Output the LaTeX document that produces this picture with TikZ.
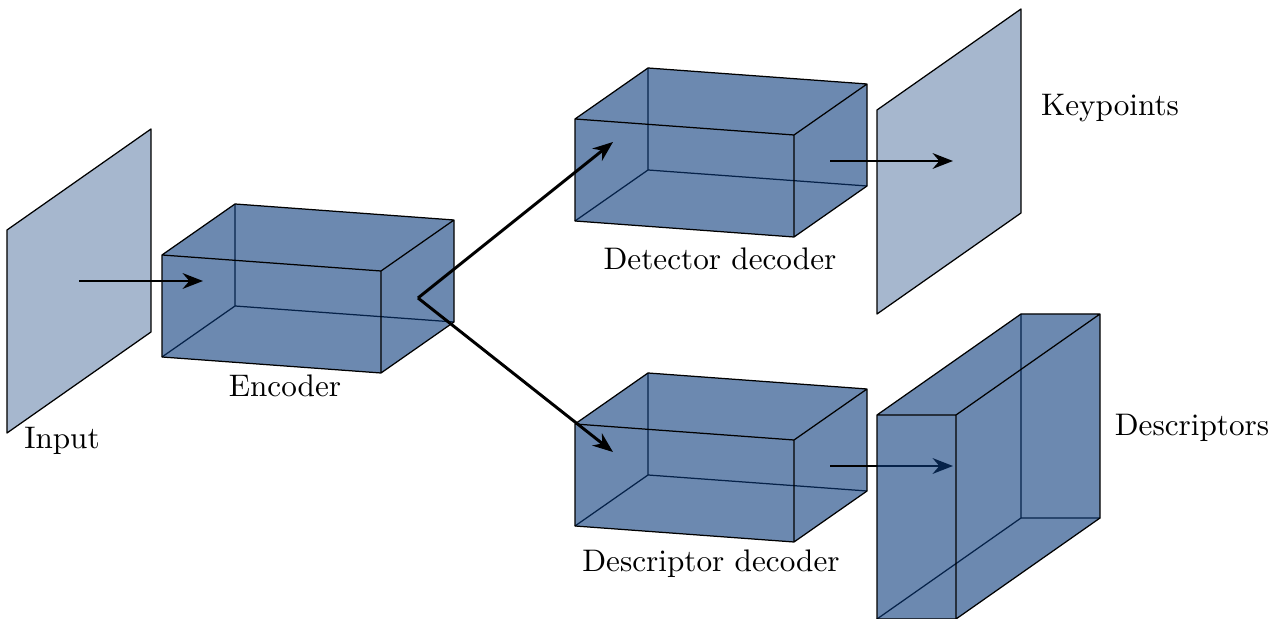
\documentclass[tikz,border=0pt]{standalone}
\usetikzlibrary{calc,arrows.meta}
\definecolor{blockblue}{HTML}{0A3A7B}
\definecolor{planeblue}{HTML}{A6B7CE}

% block: name, front bottom-left corner, width, height, depth
\newcommand{\drawblock}[5]{%
  \coordinate (#1-a) at (#2);
  \coordinate (#1-b) at ($(#1-a)+(#3)$);
  \coordinate (#1-c) at ($(#1-b)+(#4)$);
  \coordinate (#1-d) at ($(#1-a)+(#4)$);
  \coordinate (#1-e) at ($(#1-a)+(#5)$);
  \coordinate (#1-f) at ($(#1-b)+(#5)$);
  \coordinate (#1-g) at ($(#1-c)+(#5)$);
  \coordinate (#1-h) at ($(#1-d)+(#5)$);
  \draw[edge] (#1-e) -- (#1-a) (#1-e) -- (#1-f) (#1-e) -- (#1-h);
  \fill[block] (#1-a) -- (#1-b) -- (#1-f) -- (#1-g) -- (#1-h) -- (#1-d) -- cycle;
  \draw[edge] (#1-a) -- (#1-b) -- (#1-f) -- (#1-g) -- (#1-h) -- (#1-d) -- cycle
    (#1-d) -- (#1-c) -- (#1-b) (#1-c) -- (#1-g);
}
% plane: name, bottom-left corner, height, depth
\newcommand{\drawplane}[4]{%
  \coordinate (#1-a) at (#2);
  \coordinate (#1-b) at ($(#1-a)+(#3)$);
  \coordinate (#1-c) at ($(#1-b)+(#4)$);
  \coordinate (#1-d) at ($(#1-a)+(#4)$);
  \filldraw[plane] (#1-a) -- (#1-b) -- (#1-c) -- (#1-d) -- cycle;
}

\begin{document}
\begin{tikzpicture}[x=0.1127cm,y=0.1127cm,>={Stealth[length=6.5pt,width=5pt]}]
  \tikzstyle{edge}=[draw=black, line width=0.4pt, line join=round]
  \tikzstyle{block}=[fill=blockblue, fill opacity=0.6]
  \tikzstyle{plane}=[fill=planeblue, draw=black, line width=0.4pt, line join=round]
  \tikzstyle{arrow}=[->, line width=0.95pt, draw=black]
  \tikzstyle{label}=[font=\normalsize, inner sep=1pt]

  \path[use as bounding box] (0,0) rectangle (128.1,61.9);

  % input and encoder
  \drawplane{input}{0.7,18.6}{0,20.3}{14.4,10.1}
  \drawblock{enc}{16.2,26.2}{21.9,-1.6}{0,10.2}{7.3,5.1}

  \coordinate (in-start) at (7.9,33.8);
  \coordinate (in-end) at (20.3,33.8);
  \coordinate (split) at (41.8,32.1);
  \coordinate (det-in) at (61.3,47.7);
  \coordinate (desc-in) at (61.3,16.7);
  \coordinate (det-out) at (83.0,45.8);
  \coordinate (kp-in) at (95.3,45.8);
  \coordinate (desc-out) at (83.0,15.3);
  \coordinate (dsc-in) at (95.3,15.3);

  % decoders
  \drawblock{det}{57.5,39.8}{21.9,-1.6}{0,10.2}{7.3,5.1}
  \drawblock{desc}{57.5,9.3}{21.9,-1.6}{0,10.2}{7.3,5.1}

  % keypoints
  \drawplane{kp}{87.7,30.5}{0,20.4}{14.4,10.1}

  \draw[arrow] (in-start) -- (in-end);
  \draw[arrow] (split) -- (det-in);
  \draw[arrow] (split) -- (desc-in);
  \draw[arrow] (det-out) -- (kp-in);
  \draw[arrow] (desc-out) -- (dsc-in);

  % descriptors
  \drawblock{dsc}{87.7,0}{7.9,0}{0,20.4}{14.4,10.1}

  \node[label] (input-lbl) at (6.2,17.8) {Input};
  \node[label] (enc-lbl) at (28.5,23.3) {Encoder};
  \node[label] (det-lbl) at (72.0,36.0) {Detector decoder};
  \node[label] (desc-lbl) at (71.1,5.5) {Descriptor decoder};
  \node[label] (kp-lbl) at (111.0,51.1) {Keypoints};
  \node[label] (dsc-lbl) at (119.2,19.1) {Descriptors};
\end{tikzpicture}
\end{document}
